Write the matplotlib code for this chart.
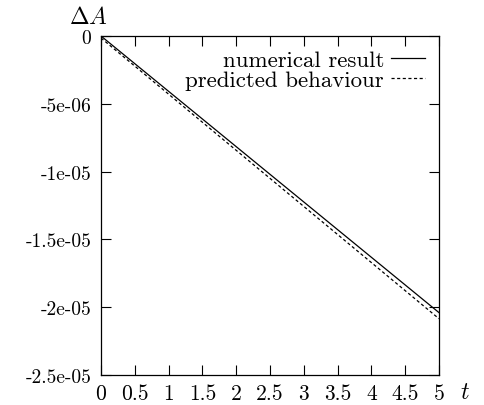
import matplotlib
matplotlib.use("Agg")
import matplotlib.pyplot as plt
import numpy as np

plt.rcParams['font.family'] = 'serif'
plt.rcParams['font.serif'] = ['cmr10', 'DejaVu Serif']
plt.rcParams['mathtext.fontset'] = 'cm'
plt.rcParams['axes.unicode_minus'] = False

# time samples and the two curves
t = [0, 1, 2, 3, 4, 5]
numerical = [0, -4.08e-06, -8.16e-06, -1.224e-05, -1.632e-05, -2.04e-05]
predicted = [-1.5e-07, -4.29e-06, -8.43e-06, -1.257e-05, -1.671e-05, -2.085e-05]

xticks = [0, 0.5, 1, 1.5, 2, 2.5, 3, 3.5, 4, 4.5, 5]
xlabels = ['0', '0.5', '1', '1.5', '2', '2.5', '3', '3.5', '4', '4.5', '5']
yticks = [0, -5e-06, -1e-05, -1.5e-05, -2e-05, -2.5e-05]
ylabels = ['0', '-5e-06', '-1e-05', '-1.5e-05', '-2e-05', '-2.5e-05']

fig = plt.figure(figsize=(4.84, 4.06), dpi=100)
ax = fig.add_axes([101/484, 1 - 376/406, 338/484, 339/406])

ax.plot(t, numerical, color='black', lw=0.9, label='numerical result')
ax.plot(t, predicted, color='black', lw=0.9, ls=(0, (2.5, 2)), label='predicted behaviour')

ax.set_xlim(0, 5)
ax.set_ylim(-2.5e-05, 0)
ax.set_xticks(xticks)
ax.set_xticklabels(xlabels)
ax.set_yticks(yticks)
ax.set_yticklabels(ylabels)
ax.tick_params(direction='in', length=7, width=0.8, top=True, right=True)
ax.tick_params(axis='y', pad=7, labelsize=14)
ax.tick_params(axis='x', pad=6, labelsize=15.5)
for s in ax.spines.values():
    s.set_linewidth(0.9)

ax.legend(loc='upper right', frameon=False, markerfirst=False, fontsize=16.5,
          handlelength=1.5, handletextpad=0.3, labelspacing=0.0,
          borderaxespad=0.2, borderpad=0.4)

fig.text(88/484, 1 - 18/406, r'$\Delta A$', fontsize=17, ha='center', va='center')
fig.text(465/484, 1 - 393/406, r'$t$', fontsize=17, ha='center', va='center')

fig.savefig('out.png', dpi=100)
